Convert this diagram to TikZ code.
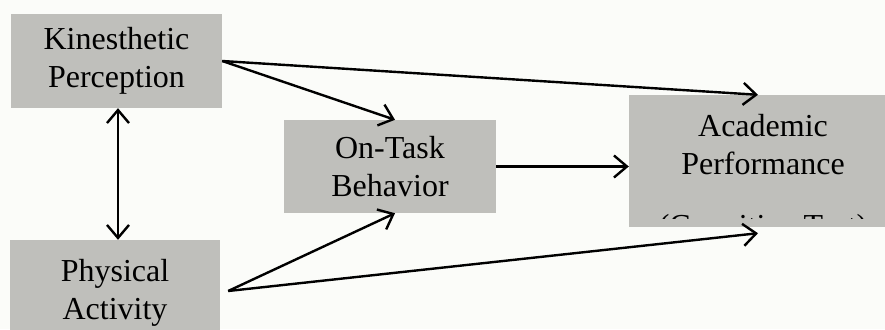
\documentclass[tikz,border=0pt]{standalone}
\usepackage{fontspec}
\setmainfont{Liberation Serif}
\usetikzlibrary{arrows.meta,calc}
\definecolor{boxgray}{RGB}{191,191,187}
\definecolor{paper}{RGB}{251,252,249}
\tikzstyle{factor}=[rectangle,fill=boxgray,inner sep=0pt,align=center,font=\rmfamily\fontsize{32}{38}\selectfont]
\tikzstyle{link}=[line width=2.4pt,-{Straight Barb[length=13pt,width=22pt]}]
\tikzstyle{twolink}=[line width=2.4pt,{Straight Barb[length=13pt,width=22pt]}-{Straight Barb[length=13pt,width=22pt]}]
\begin{document}
\begin{tikzpicture}[x=1pt,y=-1pt]
	\fill[paper] (0,0) rectangle (885,329);
	\useasboundingbox (0,0) rectangle (885,329);
	% the four factors
	\node[factor,minimum width=211,minimum height=94] (kin) at (116.5,61) {Kinesthetic\\Perception};
	\node[factor,minimum width=210,minimum height=106] (phys) at (115,293) {Physical\\Activity};
	\node[factor,minimum width=212,minimum height=93] (task) at (390,166.5) {On-Task\\Behavior};
	\node[factor,minimum width=266,minimum height=132] (acad) at (762,161) {};
	\begin{scope}
		\clip (629,95) rectangle (885,218);
		\node[factor,fill=none] (acadtext) at (763,179) {Academic\\Performance\\[24pt](Cognitive Test)};
	\end{scope}
	\coordinate (pa) at ($(phys.east)+(8,-2)$);
	% paths
	\draw[link] (kin.east) -- ([xshift=-4]acad.north);
	\draw[link] (kin.east) -- ([xshift=5]task.north);
	\draw[twolink] ([xshift=1.5]kin.south) -- ([xshift=1.5]kin.south |- phys.north);
	\draw[link] (pa) -- ([xshift=5]task.south);
	\draw[link] (pa) -- ([xshift=-4,yshift=-6]acad.south);
	\draw[link] (task.east) -- (task.east -| acad.west);
\end{tikzpicture}
\end{document}
